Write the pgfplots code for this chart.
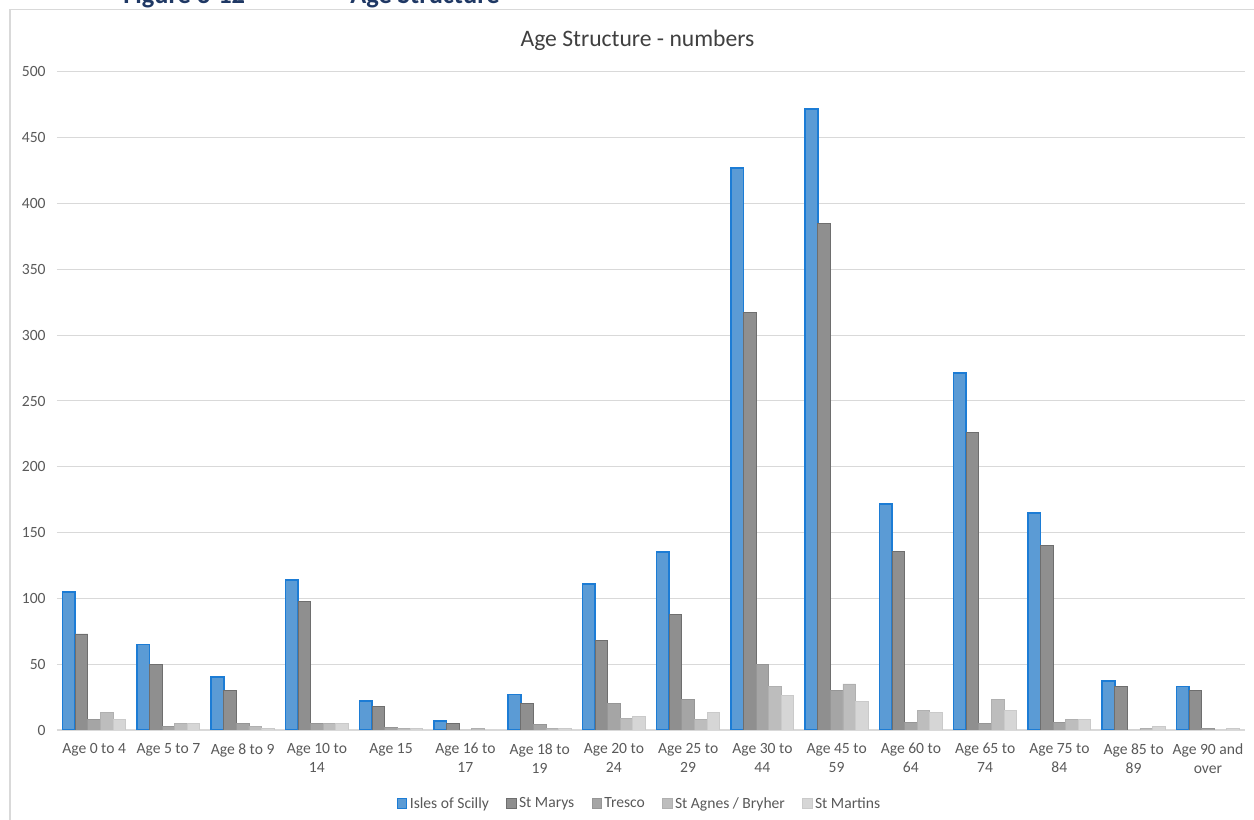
\documentclass[border=0pt]{standalone}
\usepackage{pgfplots}
\pgfplotsset{compat=1.18}
\usepackage{fontspec}
\setmainfont{Carlito}

\definecolor{isles}{HTML}{5B9BD5}
\definecolor{islesedge}{HTML}{1C7CD5}
\definecolor{marys}{HTML}{8F8F8F}
\definecolor{marysedge}{HTML}{6E6E6E}
\definecolor{tresco}{HTML}{A5A5A5}
\definecolor{trescoedge}{HTML}{969696}
\definecolor{agnes}{HTML}{BDBDBD}
\definecolor{agnesedge}{HTML}{B0B0B0}
\definecolor{martins}{HTML}{D6D6D6}
\definecolor{martinsedge}{HTML}{CACACA}
\definecolor{gridgray}{HTML}{D9D9D9}
\definecolor{ticktext}{HTML}{595959}
\definecolor{titletext}{HTML}{404040}
\definecolor{headblue}{HTML}{1F3864}

\begin{document}
\begin{tikzpicture}
\useasboundingbox (0,0) rectangle (940.5pt,615pt);

\begin{scope}[x=0.75pt,y=0.75pt]
% cut-off heading of the report page
\node[anchor=base west, inner sep=0pt, text=headblue,
      font=\bfseries\fontsize{19.8}{22}\selectfont] at (123,816) {Figure 3-12};
\node[anchor=base west, inner sep=0pt, text=headblue,
      font=\bfseries\fontsize{19.8}{22}\selectfont] at (350,816) {Age Structure};

% chart frame
\draw[gridgray, line width=1.1pt] (10,-10) -- (10,810.5) -- (1270,810.5);

\node[text=titletext, font=\fontsize{17.7}{20}\selectfont] at (637.5,780) {Age Structure - numbers};
\end{scope}

\begin{axis}[
    at={(42.75pt,67.5pt)}, anchor=south west,
    scale only axis,
    width=891pt, height=493.5pt,
    ybar=0pt, bar width=9.45pt,
    xmin=-0.5, xmax=15.5,
    ymin=0, ymax=500,
    xtick={0,...,15},
    xticklabels={Age 0 to 4, Age 5 to 7, Age 8 to 9, Age 10 to\\14, Age 15,
        Age 16 to\\17, Age 18 to\\19, Age 20 to\\24, Age 25 to\\29, Age 30 to\\44,
        Age 45 to\\59, Age 60 to\\64, Age 65 to\\74, Age 75 to\\84, Age 85 to\\89,
        Age 90 and\\over},
    ytick={0,50,...,500},
    major tick length=0pt,
    ymajorgrids,
    grid style={gridgray, line width=0.75pt},
    axis lines*=left,
    x axis line style={gridgray, line width=1.1pt},
    y axis line style={draw=none},
    tick label style={text=ticktext, font=\fontsize{11.7}{14.25}\selectfont},
    x tick label style={align=center, yshift=-6.5pt},
    y tick label style={xshift=-5pt},
    /pgf/number format/assume math mode=true,
    legend columns=5,
    legend style={at={(0.4907,-0.112)}, anchor=center, draw=none,
        font=\fontsize{11.7}{14}\selectfont, text=ticktext,
        /tikz/every even column/.append style={column sep=11pt},
        inner sep=0pt},
    legend image code/.code={\draw[#1, line width=0.6pt] (0pt,-3.6pt) rectangle (7pt,3.6pt);},
]
\addplot[fill=isles, draw=islesedge, line width=1.3pt]
    coordinates {(0,105) (1,65) (2,40) (3,114) (4,22) (5,7) (6,27) (7,111)
                 (8,135) (9,427) (10,472) (11,172) (12,271) (13,165) (14,37) (15,33)};
\addplot[fill=marys, draw=marysedge, line width=0.6pt]
    coordinates {(0,73) (1,50) (2,30) (3,98) (4,18) (5,5) (6,20) (7,68)
                 (8,88) (9,317) (10,385) (11,136) (12,226) (13,140) (14,33) (15,30)};
\addplot[fill=tresco, draw=trescoedge, line width=0.6pt]
    coordinates {(0,8) (1,3) (2,5) (3,5) (4,2) (5,0) (6,4) (7,20)
                 (8,23) (9,50) (10,30) (11,6) (12,5) (13,6) (14,0) (15,1)};
\addplot[fill=agnes, draw=agnesedge, line width=0.6pt]
    coordinates {(0,13) (1,5) (2,3) (3,5) (4,1) (5,1) (6,1) (7,9)
                 (8,8) (9,33) (10,35) (11,15) (12,23) (13,8) (14,1) (15,0)};
\addplot[fill=martins, draw=martinsedge, line width=0.6pt]
    coordinates {(0,8) (1,5) (2,1) (3,5) (4,1) (5,0) (6,1) (7,10)
                 (8,13) (9,26) (10,22) (11,13) (12,15) (13,8) (14,3) (15,1)};
\legend{Isles of Scilly, St Marys, Tresco, St Agnes / Bryher, St Martins}
\end{axis}
\end{tikzpicture}
\end{document}
